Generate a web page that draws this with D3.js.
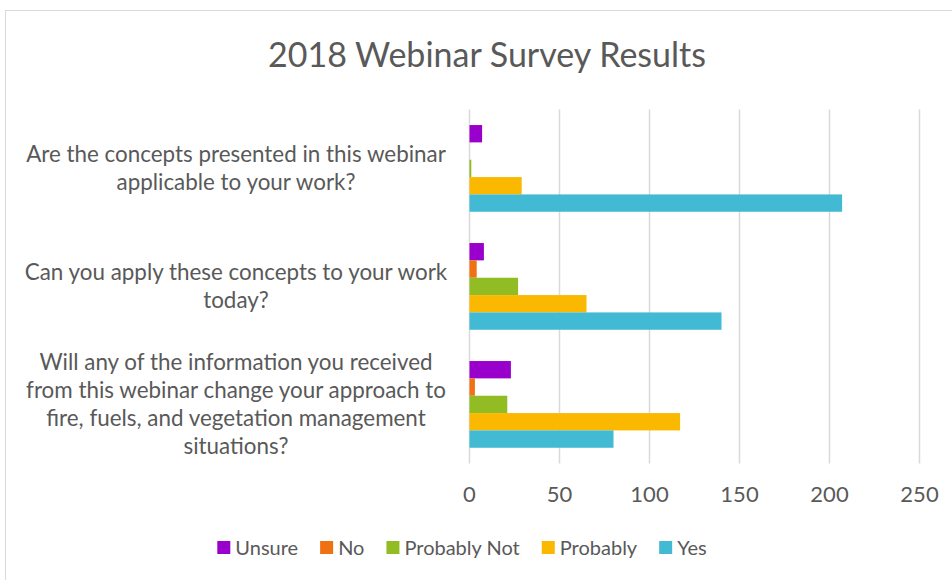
<!DOCTYPE html>
<html>
<head>
<meta charset="utf-8">
<script src="https://cdn.jsdelivr.net/npm/d3@7"></script>
<style>
  body { margin: 0; background: #fff; }
  text { font-family: Lato, "Open Sans", sans-serif; fill: #595959; }
</style>
</head>
<body>
<script>
const questions = [
  ["Are the concepts presented in this webinar", "applicable to your work?"],
  ["Can you apply these concepts to your work", "today?"],
  ["Will any of the information you received", "from this webinar change your approach to",
   "fire, fuels, and vegetation management", "situations?"]
];
const seriesNames = ["Unsure", "No", "Probably Not", "Probably", "Yes"];
const seriesColors = ["#9900cc", "#f07014", "#92bc24", "#fbb800", "#42bad3"];
const unsure = [7, 8, 23];
const no = [0, 4, 3];
const probablyNot = [1, 27, 21];
const probably = [29, 65, 117];
const yes = [207, 140, 80];
const xTicks = [0, 50, 100, 150, 200, 250];

const series = [unsure, no, probablyNot, probably, yes];
const width = 952, height = 580;
const plot = { left: 469.5, right: 919.5, top: 109.4, bottom: 463.4 };

const svg = d3.select('body').append('svg')
  .attr('width', width)
  .attr('height', height);

// chart frame
svg.append('rect')
  .attr('x', 5.5).attr('y', 10.5)
  .attr('width', 960).attr('height', 600)
  .attr('fill', '#fff')
  .attr('stroke', '#d9d9d9');

svg.append('text')
  .attr('x', 487).attr('y', 67)
  .attr('text-anchor', 'middle')
  .style('font-size', '34px')
  .text('2018 Webinar Survey Results');

const xScale = d3.scaleLinear()
  .domain([0, 250])
  .range([plot.left, plot.right]);

const yScale = d3.scaleBand()
  .domain(d3.range(questions.length))
  .range([plot.top, plot.bottom])
  .paddingInner(0.265)
  .paddingOuter(0.1325);

const inner = d3.scaleBand()
  .domain(seriesNames)
  .range([0, yScale.bandwidth()]);

// gridlines
svg.append('g')
  .selectAll('line')
  .data(xTicks)
  .enter()
  .append('line')
  .attr('x1', (d) => xScale(d)).attr('x2', (d) => xScale(d))
  .attr('y1', plot.top).attr('y2', plot.bottom)
  .attr('stroke', '#d9d9d9')
  .attr('stroke-width', 1.5);

// tick labels
svg.append('g')
  .selectAll('text')
  .data(xTicks)
  .enter()
  .append('text')
  .attr('x', (d) => xScale(d))
  .attr('y', 502)
  .attr('text-anchor', 'middle')
  .style('font-size', '22px')
  .text((d) => d);

// bars
const rows = [];
questions.forEach((q, i) => {
  series.forEach((s, j) => rows.push({ q: i, name: seriesNames[j], color: seriesColors[j], value: s[i] }));
});

svg.append('g')
  .selectAll('rect')
  .data(rows)
  .enter()
  .append('rect')
  .attr('x', xScale(0))
  .attr('y', (d) => yScale(d.q) + inner(d.name))
  .attr('width', (d) => xScale(d.value) - xScale(0))
  .attr('height', inner.bandwidth())
  .attr('fill', (d) => d.color);

// category labels
const lineH = 28;
questions.forEach((lines, i) => {
  const mid = yScale(i) + yScale.bandwidth() / 2;
  const t = svg.append('text')
    .attr('text-anchor', 'middle')
    .style('font-size', '22.4px');
  lines.forEach((line, k) => {
    t.append('tspan')
      .attr('x', 236)
      .attr('y', mid + (k - (lines.length - 1) / 2) * lineH + 8)
      .text(line);
  });
});

// legend
const legend = svg.append('g');
let lx = 0;
seriesNames.forEach((name, j) => {
  const item = legend.append('g').attr('transform', 'translate(' + lx + ',0)');
  item.append('rect')
    .attr('x', 0).attr('y', 541)
    .attr('width', 13).attr('height', 13)
    .attr('fill', seriesColors[j]);
  const label = item.append('text')
    .attr('x', 18).attr('y', 555)
    .style('font-size', '20px')
    .text(name);
  lx += 18 + label.node().getComputedTextLength() + 22;
});
const legendWidth = lx - 22;
legend.attr('transform', 'translate(' + (462 - legendWidth / 2) + ',0)');
</script>
</body>
</html>
